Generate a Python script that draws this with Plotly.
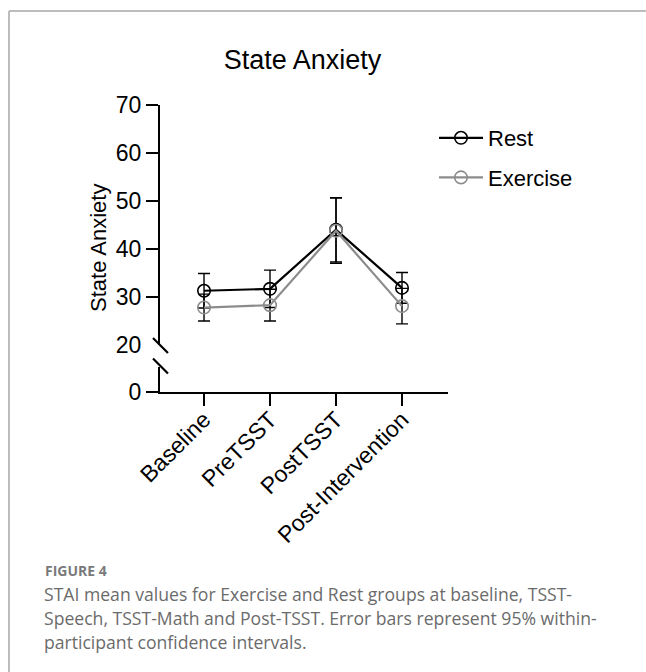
import plotly.graph_objects as go

# Time points and STAI state-anxiety means with 95% within-participant CIs
categories = ["Baseline", "PreTSST", "PostTSST", "Post-Intervention"]
rest_mean = [31.3, 31.7, 44.0, 31.9]
rest_ci = [3.6, 3.9, 6.7, 3.2]
exercise_mean = [27.8, 28.3, 43.8, 28.1]
exercise_ci = [2.8, 3.3, 6.8, 3.7]

upper_ticks = [20, 30, 40, 50, 60, 70]
lower_ticks = [0]

caption_head = "FIGURE 4"
caption_lines = [
    "STAI mean values for Exercise and Rest groups at baseline, TSST-",
    "Speech, TSST-Math and Post-TSST. Error bars represent 95% within-",
    "participant confidence intervals.",
]

W, H = 646, 672
L, R, T, B = 160, 448, 105, 392  # plot area in pixels
FONT = "Liberation Sans, Arial, sans-serif"
CAP_FONT = "Open Sans, Noto Sans, sans-serif"
GREY = "#8c8c8c"


def px_x(p):
    return (p - L) / (R - L)


def px_y(p):
    return (B - p) / (B - T)


fig = go.Figure()
fig.add_trace(go.Scatter(
    x=categories, y=rest_mean, name="Rest", legendgroup="rest",
    mode="lines+markers",
    line=dict(color="black", width=2.2),
    marker=dict(symbol="circle-open", size=12.5, color="black", line=dict(width=1.6)),
    error_y=dict(type="data", array=rest_ci, color="black", thickness=1.4, width=6),
))
fig.add_trace(go.Scatter(
    x=categories, y=exercise_mean, name="Exercise", legendgroup="exercise",
    mode="lines+markers",
    line=dict(color=GREY, width=2.2),
    marker=dict(symbol="circle-open", size=12.5, color=GREY, line=dict(width=1.6)),
    error_y=dict(type="data", array=exercise_ci, color="black", thickness=1.4, width=6),
))
# Empty trace so the lower (broken) segment of the y axis gets its own subplot
fig.add_trace(go.Scatter(
    x=categories, y=[None] * len(categories), xaxis="x", yaxis="y2",
    mode="markers", showlegend=False, hoverinfo="skip",
))

upper_bottom = px_y(345)
lower_top = px_y(367)

axis_common = dict(
    showgrid=False, zeroline=False, showline=True, linecolor="black", linewidth=2.2,
    ticks="outside", ticklen=12, tickwidth=2.2, tickcolor="black",
    tickfont=dict(family=FONT, size=23, color="black"),
)

fig.update_layout(
    width=W, height=H,
    margin=dict(l=L, r=W - R, t=T, b=H - B, pad=0),
    paper_bgcolor="white", plot_bgcolor="white",
    font=dict(family=FONT, color="black"),
    title=dict(text="State Anxiety", x=302.5 / W, xanchor="center",
               y=1 - 60 / H, yanchor="middle", yref="container",
               font=dict(family=FONT, size=27, color="black")),
    xaxis=dict(type="category", range=[-0.667, 3.697], anchor="y2",
               tickangle=-45, ticklabelstandoff=-9, **axis_common),
    yaxis=dict(domain=[upper_bottom, 1], range=[20, 70], tickvals=upper_ticks,
               anchor="x", **axis_common),
    yaxis2=dict(domain=[0, lower_top], range=[0, 4.6], tickvals=lower_ticks,
                anchor="x", **axis_common),
    legend=dict(x=px_x(434), y=px_y(117), xanchor="left", yanchor="top",
                xref="paper", yref="paper", itemwidth=44, tracegroupgap=8,
                bgcolor="rgba(0,0,0,0)",
                font=dict(family=FONT, size=22, color="black")),
    showlegend=True,
)

# Y-axis title centred on the full (broken) axis
fig.add_annotation(text="State Anxiety", textangle=-90, xref="paper", yref="paper",
                   x=px_x(98), y=px_y(248), xanchor="center", yanchor="middle",
                   showarrow=False, font=dict(family=FONT, size=22, color="black"))

# The break replaces the tick mark at 20: blank it, then draw the break marks
fig.add_shape(type="line", xref="paper", yref="paper", layer="above",
              x0=px_x(146), y0=px_y(345), x1=px_x(158.8), y1=px_y(345),
              line=dict(color="white", width=4))
for cy in (345.5, 366.0):
    fig.add_shape(type="line", xref="paper", yref="paper", layer="above",
                  x0=px_x(153), y0=px_y(cy - 7.5), x1=px_x(168), y1=px_y(cy + 7.5),
                  line=dict(color="black", width=2.2))

# Panel frame (top and left rules)
fig.add_shape(type="line", xref="paper", yref="paper",
              x0=px_x(9), y0=px_y(11), x1=px_x(W + 2), y1=px_y(11),
              line=dict(color="#bdbdbd", width=2))
fig.add_shape(type="line", xref="paper", yref="paper",
              x0=px_x(9), y0=px_y(11), x1=px_x(9), y1=px_y(H + 2),
              line=dict(color="#bdbdbd", width=2))

# Caption
fig.add_annotation(text="<b>" + caption_head + "</b>", xref="paper", yref="paper",
                   x=px_x(43), y=px_y(570), xanchor="left", yanchor="middle",
                   showarrow=False, font=dict(family=CAP_FONT, size=14, color="#7a7a7a"))
for i, line in enumerate(caption_lines):
    fig.add_annotation(text=line, xref="paper", yref="paper",
                       x=px_x(42), y=px_y(593.5 + 24 * i), xanchor="left", yanchor="middle",
                       showarrow=False, font=dict(family=CAP_FONT, size=17.6, color="#6b6b6b"))

fig.write_html("out.html")
